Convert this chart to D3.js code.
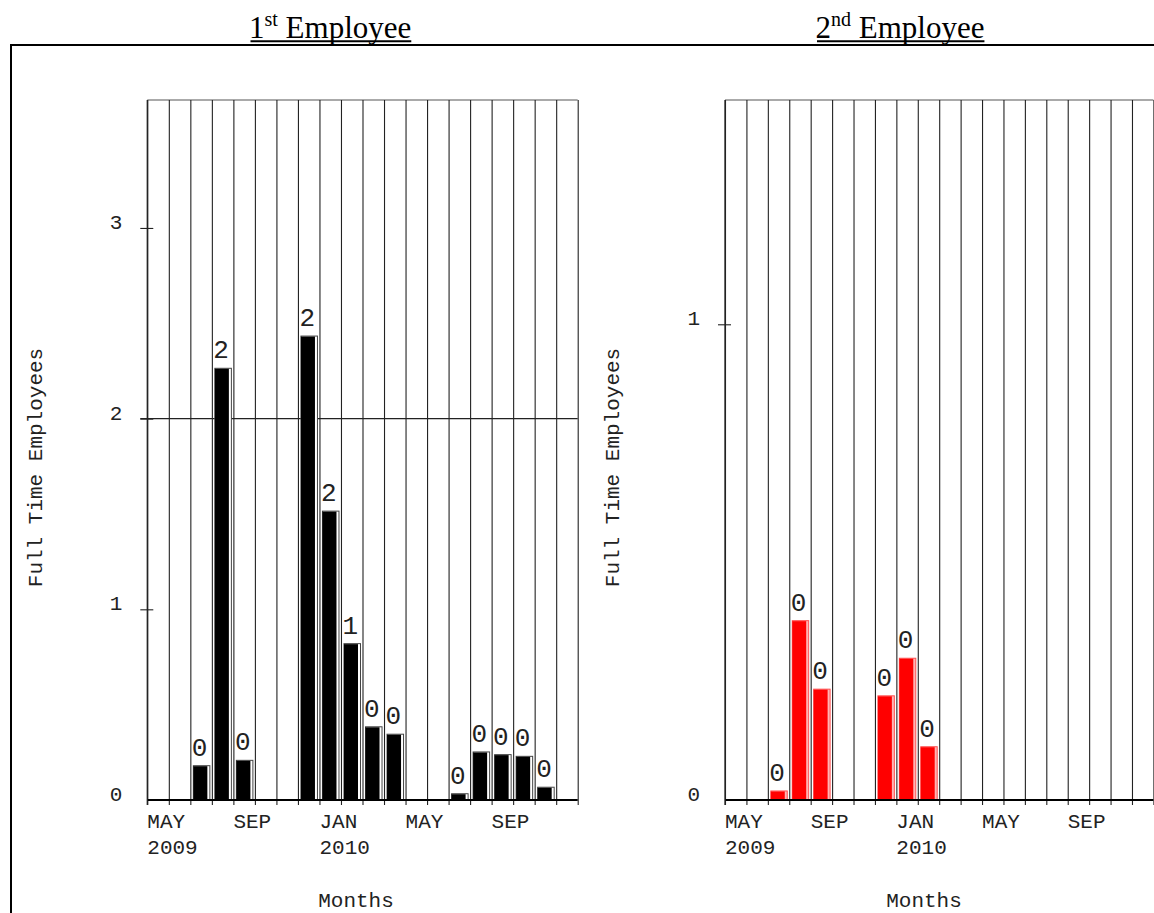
<!DOCTYPE html>
<html>
<head>
<meta charset="utf-8">
<script src="https://cdn.jsdelivr.net/npm/d3@7"></script>
<style>
  body { margin: 0; background: #fff; }
  svg { display: block; }
</style>
</head>
<body>
<div id="chart"></div>
<script>
// FTE per month, May 2009 .. Dec 2010 (null = no bar)
var monthKeys = ["2009-05", "2009-06", "2009-07", "2009-08", "2009-09", "2009-10", "2009-11",
  "2009-12", "2010-01", "2010-02", "2010-03", "2010-04", "2010-05", "2010-06", "2010-07",
  "2010-08", "2010-09", "2010-10", "2010-11", "2010-12"];

var emp1Fte = [null, null, 0.18, 2.264, 0.208, null, null, 2.433, 1.515, 0.82, 0.384, 0.345,
  null, null, 0.033, 0.252, 0.238, 0.229, 0.067, null];
var emp2Fte = [null, null, 0.019, 0.377, 0.233, null, null, 0.219, 0.298, 0.112, null, null,
  null, null, null, null, null, null, null, null];

var monthTickIdx = [0, 4, 8, 12, 16];
var monthTickText = ["MAY", "SEP", "JAN", "MAY", "SEP"];
var yearTickText = ["2009", "", "2010", "", ""];

var emp1YTicks = [0, 1, 2, 3], emp1YMax = 3.671, emp1RefLines = [2];
var emp2YTicks = [0, 1], emp2YMax = 1.4715, emp2RefLines = [];

var titles = [["1", "st"], ["2", "nd"]];

var width = 1154, height = 913,
    monoFont = "'Liberation Mono', 'Courier New', monospace",
    serifFont = "'Liberation Serif', 'Times New Roman', serif",
    plotTop = 100, plotBottom = 800, tickBottom = 805;

var panels = [
  {values: emp1Fte, yTicks: emp1YTicks, yMax: emp1YMax, refLines: emp1RefLines,
   left: 147.3, w: 430.4, fill: "#000", edge: "#444", stripe: "#fff",
   titleX: 249, title: titles[0], monthsX: 356, yTitleX: 41.5},
  {values: emp2Fte, yTicks: emp2YTicks, yMax: emp2YMax, refLines: emp2RefLines,
   left: 725, w: 428.4, fill: "#ff0000", edge: "#ff5050", stripe: "#ffb4b4",
   titleX: 815.5, title: titles[1], monthsX: 924, yTitleX: 619}
];

var svg = d3.select("#chart").append("svg")
    .attr("width", width)
    .attr("height", height);

svg.append("rect").attr("width", width).attr("height", height).attr("fill", "#fff");

// page frame
svg.append("line")
    .attr("x1", 10).attr("x2", width).attr("y1", 45).attr("y2", 45)
    .attr("stroke", "#000").attr("stroke-width", 2);
svg.append("line")
    .attr("x1", 11).attr("x2", 11).attr("y1", 44).attr("y2", height)
    .attr("stroke", "#000").attr("stroke-width", 2);

panels.forEach(function(p){
  var x = d3.scaleLinear().domain([0, monthKeys.length]).range([p.left, p.left + p.w]);
  var y = d3.scaleLinear().domain([0, p.yMax]).range([plotBottom, plotTop]);
  var g = svg.append("g");

  // title (underlined, superscript suffix)
  var tg = svg.append("g")
      .attr("transform", "translate(" + p.titleX + ",37.5)");
  var tt = tg.append("text")
      .attr("font-family", serifFont)
      .attr("font-size", 31)
      .attr("fill", "#000");
  tt.append("tspan").text(p.title[0]);
  tt.append("tspan").attr("font-size", 20).attr("dy", -12).text(p.title[1]);
  tt.append("tspan").attr("dy", 12).text(" Employee");
  var bb = tt.node().getBBox();
  tg.append("line")
      .attr("x1", 1.5).attr("x2", bb.x + bb.width)
      .attr("y1", 3.8).attr("y2", 3.8)
      .attr("stroke", "#000").attr("stroke-width", 2);

  // top edge of plot
  g.append("line")
      .attr("x1", x(0)).attr("x2", x(monthKeys.length))
      .attr("y1", plotTop).attr("y2", plotTop)
      .attr("stroke", "#555").attr("stroke-width", 1);

  // month grid lines with ticks below the baseline
  var xAxis = d3.axisBottom(x)
      .tickValues(d3.range(monthKeys.length + 1))
      .tickSize(-(tickBottom - plotTop))
      .tickFormat("");
  var xg = g.append("g")
      .attr("transform", "translate(0," + tickBottom + ")")
      .call(xAxis);
  xg.select(".domain").remove();
  xg.selectAll(".tick line").attr("stroke", "#222").attr("stroke-width", 1.1);

  // horizontal reference lines
  g.selectAll(".refline")
    .data(p.refLines)
    .join("line")
      .attr("class", "refline")
      .attr("x1", x(0) - 7).attr("x2", x(monthKeys.length))
      .attr("y1", d => y(d)).attr("y2", d => y(d))
      .attr("stroke", "#222").attr("stroke-width", 1.1);

  // bars
  var bars = monthKeys.map(function(m, i){ return {i: i, v: p.values[i]}; })
      .filter(d => d.v !== null);
  var bx0 = d => x(d.i) + 3, bx1 = d => x(d.i + 1) - 2;

  g.selectAll(".barEdge")
    .data(bars)
    .join("rect")
      .attr("class", "barEdge")
      .attr("x", bx0)
      .attr("y", d => y(d.v))
      .attr("width", d => bx1(d) - bx0(d))
      .attr("height", d => plotBottom - y(d.v))
      .attr("fill", p.stripe)
      .attr("stroke", p.edge)
      .attr("stroke-width", 1);
  g.selectAll(".barFill")
    .data(bars)
    .join("rect")
      .attr("class", "barFill")
      .attr("x", bx0)
      .attr("y", d => y(d.v) + 0.5)
      .attr("width", d => bx1(d) - bx0(d) - 2.5)
      .attr("height", d => plotBottom - y(d.v) - 0.5)
      .attr("fill", p.fill);

  // value labels (rounded)
  g.selectAll(".valLabel")
    .data(bars)
    .join("text")
      .attr("class", "valLabel")
      .attr("x", d => bx0(d) - 1.5)
      .attr("y", d => y(d.v) - 10)
      .attr("font-family", monoFont)
      .attr("font-size", 26)
      .attr("fill", "#222")
      .text(d => d3.format("d")(Math.round(d.v)));

  // baseline
  g.append("line")
      .attr("x1", x(0)).attr("x2", x(monthKeys.length))
      .attr("y1", plotBottom).attr("y2", plotBottom)
      .attr("stroke", "#000").attr("stroke-width", 2.2);

  // y axis
  var yAxis = d3.axisLeft(y)
      .tickValues(p.yTicks)
      .tickSize(7)
      .tickFormat(d3.format("d"));
  var yg = g.append("g")
      .attr("transform", "translate(" + x(0) + ",0)")
      .call(yAxis);
  yg.select(".domain").remove();
  yg.selectAll(".tick line")
      .attr("x1", 6)
      .attr("stroke", "#222")
      .attr("stroke-width", d => d === 0 ? 0 : 1.1);
  yg.selectAll(".tick text")
      .attr("x", -25)
      .attr("dy", "0.02em")
      .attr("font-family", monoFont)
      .attr("font-size", 21)
      .attr("fill", "#222");
  g.append("line")
      .attr("x1", x(0)).attr("x2", x(0))
      .attr("y1", plotTop).attr("y2", tickBottom)
      .attr("stroke", "#222").attr("stroke-width", 1.3);

  // month / year labels
  g.selectAll(".mLabel")
    .data(monthTickIdx)
    .join("text")
      .attr("class", "mLabel")
      .attr("x", d => x(d))
      .attr("y", 827.5)
      .attr("font-family", monoFont)
      .attr("font-size", 21)
      .attr("fill", "#222")
      .text((d, k) => monthTickText[k]);
  g.selectAll(".yrLabel")
    .data(monthTickIdx)
    .join("text")
      .attr("class", "yrLabel")
      .attr("x", d => x(d))
      .attr("y", 854)
      .attr("font-family", monoFont)
      .attr("font-size", 21)
      .attr("fill", "#222")
      .text((d, k) => yearTickText[k]);

  // axis titles
  g.append("text")
      .attr("x", p.monthsX)
      .attr("y", 906.5)
      .attr("text-anchor", "middle")
      .attr("font-family", monoFont)
      .attr("font-size", 21)
      .attr("fill", "#222")
      .text("Months");
  g.append("text")
      .attr("transform", "translate(" + p.yTitleX + ",467.5) rotate(-90)")
      .attr("text-anchor", "middle")
      .attr("font-family", monoFont)
      .attr("font-size", 21)
      .attr("fill", "#222")
      .text("Full Time Employees");
});
</script>
</body>
</html>
